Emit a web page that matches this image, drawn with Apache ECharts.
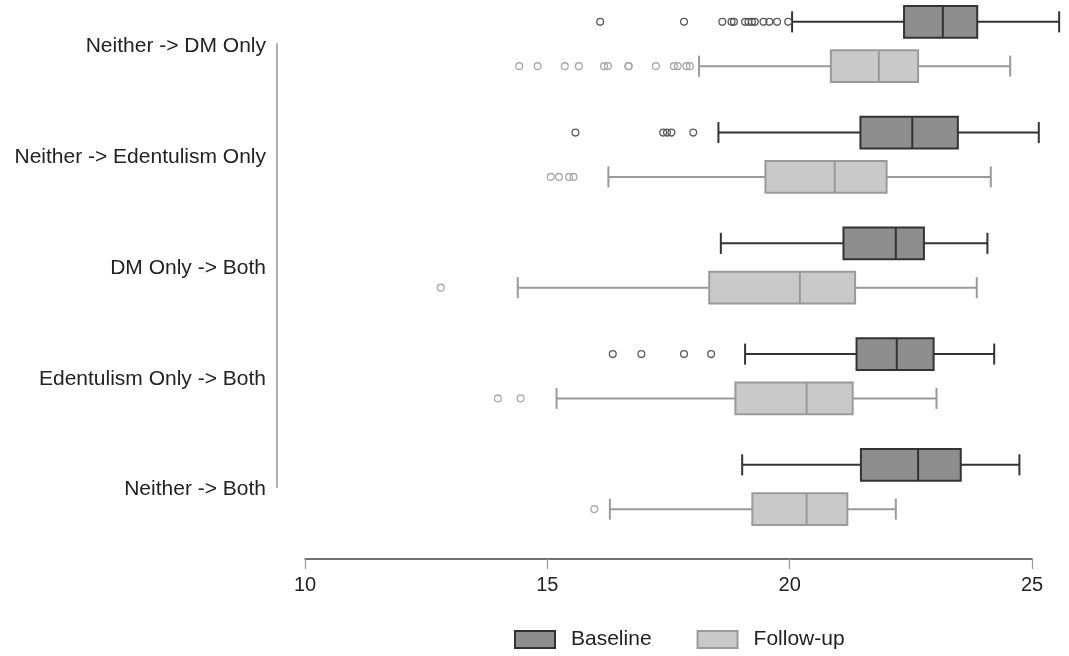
<!DOCTYPE html>
<html>
<head>
<meta charset="utf-8">
<script src="https://cdn.jsdelivr.net/npm/echarts@6/dist/echarts.min.js"></script>
<style>
html,body{margin:0;padding:0;background:#fff;}
#chart{width:1069px;height:656px;}
</style>
</head>
<body>
<div id="chart"></div>
<script>
// ---- data ----
var categories = ['Neither -> DM Only', 'Neither -> Edentulism Only', 'DM Only -> Both', 'Edentulism Only -> Both', 'Neither -> Both'];
var seriesNames = ['Baseline', 'Follow-up'];
var xTicks = [10, 15, 20, 25];
// [low whisker, Q1, median, Q3, high whisker]
var baselineStats = [
  [20.05, 22.36, 23.16, 23.87, 25.56],
  [18.53, 21.46, 22.53, 23.47, 25.14],
  [18.58, 21.11, 22.19, 22.77, 24.08],
  [19.08, 21.38, 22.21, 22.97, 24.22],
  [19.02, 21.47, 22.65, 23.53, 24.74]
];
var followupStats = [
  [18.13, 20.85, 21.84, 22.65, 24.55],
  [16.26, 19.50, 20.93, 22.00, 24.15],
  [14.39, 18.34, 20.21, 21.35, 23.86],
  [15.19, 18.88, 20.35, 21.30, 23.03],
  [16.29, 19.23, 20.35, 21.19, 22.19]
];
var baselineOutliers = [
  [16.09, 17.82, 18.61, 18.80, 18.85, 19.08, 19.15, 19.22, 19.28, 19.46, 19.58, 19.74, 19.97],
  [15.58, 17.39, 17.47, 17.56, 18.01],
  [],
  [16.35, 16.94, 17.82, 18.38],
  []
];
var followupOutliers = [
  [14.42, 14.80, 15.36, 15.65, 16.17, 16.25, 16.67, 16.68, 17.24, 17.61, 17.69, 17.87, 17.94],
  [15.07, 15.24, 15.45, 15.54],
  [12.80],
  [13.98, 14.45],
  [15.97]
];

// ---- styles ----
var FONT = "'Liberation Sans', Arial, Helvetica, sans-serif";
var styles = {
  base: {fill: '#8e8e8e', stroke: '#333333', outlier: '#5a5a5a', side: -1},
  foll: {fill: '#c9c9c9', stroke: '#9a9a9a', outlier: '#aaaaaa', side: 1}
};
var OFFSET_FRAC = 0.2;   // box centre offset from category centre (fraction of band)
var BOX_FRAC = 0.285;    // box height (fraction of band)
var CAP_FRAC = 0.19;     // whisker cap height

function boxData(stats) {
  return stats.map(function (s, i) { return [i].concat(s); });
}
function outlierData(list) {
  var out = [];
  list.forEach(function (arr, i) { arr.forEach(function (v) { out.push([v, i]); }); });
  return out;
}

function boxRender(st) {
  return function (params, api) {
    var ci = api.value(0);
    var band = api.size([0, 1])[1];
    var c = api.coord([api.value(1), ci]);
    var y = c[1] + st.side * band * OFFSET_FRAC;
    var xs = [1, 2, 3, 4, 5].map(function (d) { return api.coord([api.value(d), ci])[0]; });
    var bh = band * BOX_FRAC, ch = band * CAP_FRAC;
    var ls = {stroke: st.stroke, lineWidth: 2};
    return {
      type: 'group',
      children: [
        {type: 'line', shape: {x1: xs[0], y1: y, x2: xs[1], y2: y}, style: ls},
        {type: 'line', shape: {x1: xs[3], y1: y, x2: xs[4], y2: y}, style: ls},
        {type: 'line', shape: {x1: xs[0], y1: y - ch / 2, x2: xs[0], y2: y + ch / 2}, style: ls},
        {type: 'line', shape: {x1: xs[4], y1: y - ch / 2, x2: xs[4], y2: y + ch / 2}, style: ls},
        {type: 'rect', shape: {x: xs[1], y: y - bh / 2, width: xs[3] - xs[1], height: bh},
          style: {fill: st.fill, stroke: st.stroke, lineWidth: 2}},
        {type: 'line', shape: {x1: xs[2], y1: y - bh / 2, x2: xs[2], y2: y + bh / 2}, style: ls}
      ]
    };
  };
}
function outlierRender(st) {
  return function (params, api) {
    var ci = api.value(1);
    var band = api.size([0, 1])[1];
    var p = api.coord([api.value(0), ci]);
    return {
      type: 'circle',
      shape: {cx: p[0], cy: p[1] + st.side * band * OFFSET_FRAC, r: 3.4},
      style: {fill: 'rgba(255,255,255,0)', stroke: st.outlier, lineWidth: 1.3}
    };
  };
}

var chart = echarts.init(document.getElementById('chart'), null, {renderer: 'canvas'});
chart.setOption({
  backgroundColor: '#ffffff',
  animation: false,
  textStyle: {fontFamily: FONT},
  grid: {left: 305, right: 37, top: 44, bottom: 169},
  xAxis: {
    type: 'value', min: xTicks[0], max: xTicks[xTicks.length - 1], interval: 5,
    offset: 72,
    axisLine: {show: true, lineStyle: {color: '#444', width: 1.5}},
    axisTick: {show: true, length: 10, lineStyle: {color: '#999', width: 1.2}},
    axisLabel: {fontSize: 20, color: '#222', margin: 16, fontFamily: FONT},
    splitLine: {show: false}
  },
  yAxis: {
    type: 'category', data: categories, inverse: true, boundaryGap: false,
    offset: 28,
    axisLine: {show: true, lineStyle: {color: '#b0b0b0', width: 2}},
    axisTick: {show: false},
    axisLabel: {fontSize: 21, color: '#222', margin: 11, fontFamily: FONT, verticalAlign: 'top', lineHeight: 5},
    splitLine: {show: false}
  },
  legend: {
    left: 509, top: 624,
    itemWidth: 40, itemHeight: 17, itemGap: 45,
    textStyle: {fontSize: 21, color: '#222', fontFamily: FONT, padding: [0, 0, 0, 11]},
    data: [
      {name: seriesNames[0], icon: 'rect', itemStyle: {color: styles.base.fill, borderColor: styles.base.stroke, borderWidth: 2}},
      {name: seriesNames[1], icon: 'rect', itemStyle: {color: styles.foll.fill, borderColor: styles.foll.stroke, borderWidth: 2}}
    ]
  },
  series: [
    {name: seriesNames[0], type: 'custom', renderItem: boxRender(styles.base),
      data: boxData(baselineStats), encode: {x: [1, 2, 3, 4, 5], y: 0}},
    {name: seriesNames[1], type: 'custom', renderItem: boxRender(styles.foll),
      data: boxData(followupStats), encode: {x: [1, 2, 3, 4, 5], y: 0}},
    {name: 'Baseline outliers', type: 'custom', renderItem: outlierRender(styles.base),
      data: outlierData(baselineOutliers), encode: {x: 0, y: 1}},
    {name: 'Follow-up outliers', type: 'custom', renderItem: outlierRender(styles.foll),
      data: outlierData(followupOutliers), encode: {x: 0, y: 1}}
  ]
});
</script>
</body>
</html>
